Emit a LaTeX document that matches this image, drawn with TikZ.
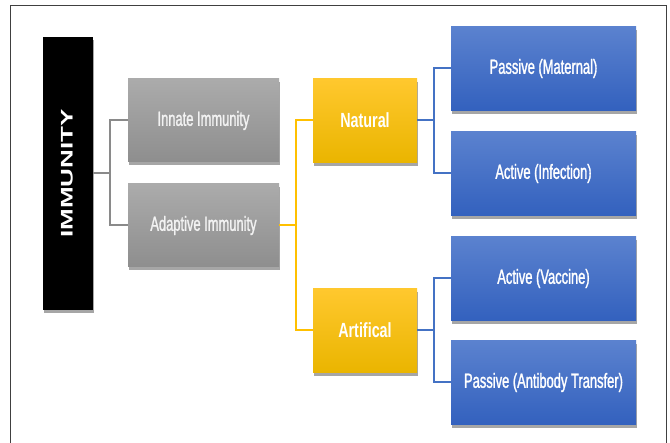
\documentclass[tikz,border=0pt]{standalone}
\usepackage{fontspec}
\setmainfont{Liberation Sans}
\newfontfamily\narrowfont[FakeStretch=0.63, FakeBold=1.3]{Liberation Sans}
\newfontfamily\narrowbold[FakeStretch=0.7]{Liberation Sans}
\newfontfamily\widefont[FakeStretch=1.55]{Liberation Sans}
\usetikzlibrary{shadows}
\definecolor{frameC}{HTML}{404040}
\definecolor{grayTop}{HTML}{ABABAB}
\definecolor{grayBot}{HTML}{8E8E8E}
\definecolor{yelTop}{HTML}{FFC82E}
\definecolor{yelBot}{HTML}{EAB500}
\definecolor{bluTop}{HTML}{5B82CF}
\definecolor{bluBot}{HTML}{3361BE}
\definecolor{grayLine}{HTML}{8A8A8A}
\definecolor{yelLine}{HTML}{FFC000}
\definecolor{bluLine}{HTML}{4472C4}
\definecolor{grayText}{HTML}{F2F2F2}
\tikzset{
  basebox/.style={inner sep=0pt, outer sep=0pt, align=center,
    drop shadow={shadow xshift=1pt, shadow yshift=-3.5pt, opacity=0.35, fill=black}},
  rootbox/.style={basebox, fill=black, minimum width=50pt, minimum height=273pt},
  graybox/.style={basebox, top color=grayTop, bottom color=grayBot, minimum width=151pt, minimum height=83pt,
    text=grayText, font=\narrowfont\fontsize{20.5}{24}\selectfont},
  yelbox/.style={basebox, top color=yelTop, bottom color=yelBot, minimum width=104pt, minimum height=84pt,
    text=white, font=\narrowbold\bfseries\fontsize{20.5}{24}\selectfont},
  blubox/.style={basebox, top color=bluTop, bottom color=bluBot, minimum width=185pt, minimum height=84pt,
    text=white, font=\narrowfont\fontsize{20.5}{24}\selectfont},
  grayconn/.style={draw=grayLine, line width=2pt},
  yelconn/.style={draw=yelLine, line width=2pt},
  bluconn/.style={draw=bluLine, line width=2pt},
}
\begin{document}
\begin{tikzpicture}[x=1pt, y=-1pt]
\useasboundingbox (0,0) rectangle (670,443);
\fill[white] (0,0) rectangle (670,443);
\draw[frameC, line width=1.3pt] (10.5,445) -- (10.5,5.5) -- (666.5,5.5) -- (666.5,445);

\coordinate (g) at (110,173.5);
\coordinate (yj) at (296,225.5);
\coordinate (b1) at (434,120.5);
\coordinate (b2) at (434,330.5);

\node[rootbox] (root) at (68,173.5) {};
\node[rotate=90, text=white, font=\widefont\bfseries\fontsize{16.8}{18}\selectfont] (rootlabel) at (67,173.5) {IMMUNITY};

\node[graybox] (innate) at (203.5,120.5) {Innate Immunity};
\node[graybox] (adaptive) at (203.5,225.5) {Adaptive Immunity};

\node[yelbox] (natural) at (365,120.5) {Natural};
\node[yelbox] (artif) at (365,330.5) {Artifical};

\node[blubox] (pm) at (543.5,68.5) {Passive (Maternal)};
\node[blubox] (ai) at (543.5,173.5) {Active (Infection)};
\node[blubox] (av) at (543.5,278.5) {Active (Vaccine)};
\node[blubox] (pa) at (543.5,382.5) {Passive (Antibody Transfer)};

\draw[grayconn] (root.east) -- (g);
\draw[grayconn] (innate.west) -| (g) |- (adaptive.west);
\draw[yelconn] (adaptive.east) -- (yj);
\draw[yelconn] (natural.west) -| (yj) |- (artif.west);
\draw[bluconn] (natural.east) -- (b1);
\draw[bluconn] (pm.west) -| (b1) |- (ai.west);
\draw[bluconn] (artif.east) -- (b2);
\draw[bluconn] (av.west) -| (b2) |- (pa.west);
\end{tikzpicture}
\end{document}
